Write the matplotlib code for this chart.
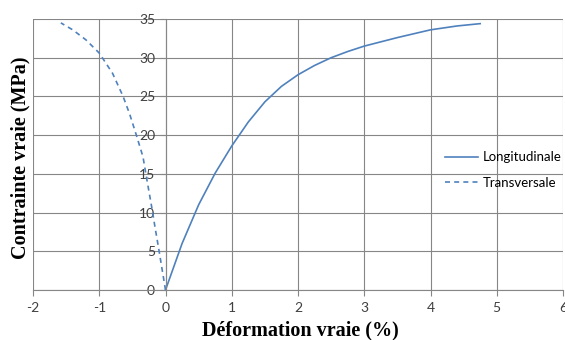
import matplotlib
matplotlib.use("Agg")
import matplotlib.pyplot as plt

plt.rcParams["axes.unicode_minus"] = False

# Longitudinal strain (%) vs true stress (MPa)
long_x = [0.0, 0.1, 0.25, 0.5, 0.75, 1.0, 1.25, 1.5, 1.75, 2.0, 2.25, 2.5, 2.75, 3.0, 3.5, 4.0, 4.4, 4.75]
long_y = [0.0, 2.4, 6.0, 11.0, 15.1, 18.6, 21.7, 24.3, 26.3, 27.8, 29.0, 30.0, 30.8, 31.5, 32.6, 33.6, 34.1, 34.4]

# Transversal strain (%) vs true stress (MPa)
trans_x = [0.0, -0.05, -0.1, -0.16, -0.21, -0.28, -0.34, -0.44, -0.54, -0.64, -0.8, -1.0, -1.2, -1.4, -1.58]
trans_y = [0.0, 2.6, 5.2, 8.2, 10.8, 14.2, 17.2, 20.0, 22.7, 25.0, 28.0, 30.6, 32.3, 33.6, 34.5]

xticks = [-2, -1, 0, 1, 2, 3, 4, 5, 6]
yticks = [0, 5, 10, 15, 20, 25, 30, 35]

blue = "#4F81BD"
gray = "#868686"
tick_font = "Lato"

fig = plt.figure(figsize=(5.65, 3.4), dpi=100)
ax = fig.add_axes([33 / 565, 1 - 290 / 340, 530 / 565, 271 / 340])

ax.plot(long_x, long_y, color=blue, lw=1.2, label="Longitudinale")
ax.plot(trans_x, trans_y, color=blue, lw=1.2, ls=(0, (3, 2.5)), label="Transversale")

ax.set_xlim(-2, 6)
ax.set_ylim(0, 35)
ax.set_xticks(xticks)
ax.set_yticks(yticks)
ax.grid(True, color=gray, lw=0.8)

ax.spines["top"].set_visible(False)
ax.spines["right"].set_visible(False)
ax.spines["left"].set_position(("data", 0))
ax.spines["left"].set_color(gray)
ax.spines["bottom"].set_color(gray)
ax.tick_params(axis="both", colors=gray, length=4, width=0.8, labelcolor="#404040", labelsize=10)
ax.tick_params(axis="x", pad=5)
for lbl in ax.get_xticklabels() + ax.get_yticklabels():
    lbl.set_fontfamily(tick_font)

leg = ax.legend(loc="center left", bbox_to_anchor=(0.778, 0.443), frameon=False,
                prop={"family": tick_font, "size": 9.5}, handlelength=2.5,
                labelspacing=1.0, handletextpad=0.35, borderpad=0, borderaxespad=0)

fig.text(300 / 565, 1 - 330 / 340, "Déformation vraie (%)", ha="center", va="center",
         family="Liberation Serif", weight="bold", fontsize=14.5)
fig.text(20 / 565, 1 - 158 / 340, "Contrainte vraie (MPa)", ha="center", va="center",
         rotation=90, family="Liberation Serif", weight="bold", fontsize=14.5)

fig.savefig("out.png", dpi=100)
